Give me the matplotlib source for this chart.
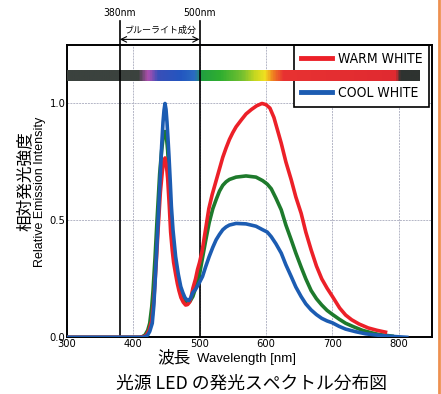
import numpy as np
import matplotlib
matplotlib.use('Agg')
import matplotlib.pyplot as plt
from matplotlib.colors import LinearSegmentedColormap
from matplotlib.lines import Line2D

# curves (wavelength nm, relative intensity)
warm_nm = [300, 410, 416, 420, 424, 428, 431, 435, 438, 441, 444, 446, 448, 450, 452, 454.5, 456.5, 459, 461, 464,
           466.6, 469, 472, 475.5, 479, 482, 485, 487.5, 490, 494, 497, 500, 504, 509, 514, 519, 525, 530, 535, 540,
           545, 550, 555, 563, 570, 578, 586, 594, 600, 606, 612, 618, 623, 630, 638, 645, 653, 660, 668, 676, 684,
           692, 700, 711, 720, 729, 740, 754, 767, 780]
warm_val = [0, 0, 0.003, 0.01, 0.03, 0.07, 0.15, 0.33, 0.48, 0.62, 0.71, 0.75, 0.767, 0.74, 0.68, 0.56, 0.45, 0.37,
            0.32, 0.27, 0.23, 0.20, 0.17, 0.15, 0.138, 0.14, 0.15, 0.175, 0.21, 0.25, 0.29, 0.32, 0.37, 0.46, 0.55,
            0.61, 0.67, 0.72, 0.77, 0.81, 0.846, 0.875, 0.90, 0.93, 0.955, 0.974, 0.99, 1.0, 0.995, 0.98, 0.94, 0.88,
            0.83, 0.75, 0.674, 0.60, 0.53, 0.45, 0.374, 0.305, 0.25, 0.21, 0.175, 0.125, 0.095, 0.075, 0.057, 0.04,
            0.03, 0.022]

mid_nm = [300, 410, 414, 418, 422, 425, 428, 430, 433, 436, 440, 443, 445, 448, 450, 452, 454, 456, 459, 462, 465,
          468, 471, 475, 478, 482, 486, 490, 494, 500, 504.5, 509, 514.5, 520, 525, 530, 535, 540, 545, 555, 570,
          585, 595, 602, 608, 615, 623, 630, 638, 645, 653, 660, 668, 676, 684, 692, 700, 710, 720, 732, 745, 758,
          770, 790]
mid_val = [0, 0, 0.003, 0.01, 0.03, 0.06, 0.13, 0.20, 0.34, 0.50, 0.70, 0.80, 0.85, 0.88, 0.86, 0.80, 0.70, 0.58,
           0.45, 0.36, 0.29, 0.24, 0.20, 0.17, 0.155, 0.148, 0.155, 0.175, 0.21, 0.27, 0.34, 0.41, 0.49, 0.55, 0.589,
           0.625, 0.65, 0.665, 0.675, 0.685, 0.69, 0.685, 0.67, 0.655, 0.635, 0.595, 0.545, 0.48, 0.417, 0.36, 0.30,
           0.25, 0.20, 0.165, 0.138, 0.115, 0.098, 0.078, 0.06, 0.045, 0.03, 0.02, 0.012, 0.005]

cool_nm = [300, 415, 419, 422, 425, 428.8, 431, 433, 435, 438, 441, 443, 445, 446.5, 448, 449.5, 451, 452.5, 454,
           456, 457.6, 460, 464, 468, 471.7, 475, 478, 481, 484, 487, 489.6, 494, 500, 504.5, 509, 514.5, 520, 525,
           530, 535, 540, 545, 555, 570, 585, 595, 602, 608, 615, 623, 630, 638, 645, 653, 660, 668, 676, 684, 692,
           700, 710, 720, 735, 750, 765, 780, 795, 812]
cool_val = [0, 0, 0.004, 0.01, 0.025, 0.06, 0.13, 0.23, 0.345, 0.52, 0.70, 0.82, 0.92, 0.97, 1.0, 0.975, 0.92, 0.85,
            0.774, 0.66, 0.56, 0.46, 0.345, 0.27, 0.217, 0.19, 0.17, 0.16, 0.157, 0.17, 0.19, 0.205, 0.235, 0.26,
            0.30, 0.345, 0.385, 0.417, 0.44, 0.46, 0.472, 0.48, 0.487, 0.485, 0.475, 0.46, 0.45, 0.43, 0.40, 0.36,
            0.31, 0.26, 0.215, 0.174, 0.143, 0.117, 0.097, 0.081, 0.07, 0.062, 0.047, 0.035, 0.024, 0.015, 0.01,
            0.006, 0.003, 0.0]

# colour strip of the visible spectrum
strip_nm = [300, 406, 421, 436, 470, 492, 502, 530, 563, 583, 598, 608, 625, 795, 802, 830]
strip_col = ['#3b423e', '#3b423e', '#b050b0', '#3a4fb8', '#2356c0', '#2a6cc0', '#22a040', '#2fae30', '#74c030',
             '#c8d820', '#f2e020', '#f08a20', '#e83232', '#e02a30', '#2e3330', '#2e3330']

x_ticks = [300, 400, 500, 600, 700, 800]
y_ticks = [0, 0.5, 1.0]
y_ticklabels = ['0.0', '0.5', '1.0']
blue_lo, blue_hi = 380, 500

narrow = dict(family='DejaVu Sans', stretch='condensed')
jp = ['Noto Sans CJK JP', 'DejaVu Sans']

W, H = 441, 394
fig = plt.figure(figsize=(W / 100, H / 100), dpi=100)
ax = fig.add_axes([66.7 / W, 1 - 337.3 / H, (432 - 66.7) / W, (337.3 - 45) / H])
ax.set_xlim(300, 850)
ax.set_ylim(0, 1.25)

ax.set_axisbelow(True)
ax.grid(True, color='#b4b6c6', linestyle=(0, (2, 1)), linewidth=0.7)
for s in ax.spines.values():
    s.set_linewidth(1.4)
ax.set_xticks(x_ticks)
ax.set_xticklabels([str(v) for v in x_ticks], fontsize=8, **narrow)
ax.set_yticks(y_ticks)
ax.set_yticklabels(y_ticklabels, fontsize=8, **narrow)
ax.tick_params(length=0, pad=1)

# spectrum strip
pos = [(v - strip_nm[0]) / (strip_nm[-1] - strip_nm[0]) for v in strip_nm]
cmap = LinearSegmentedColormap.from_list('spec', list(zip(pos, strip_col)))
ax.imshow(np.linspace(0, 1, 400)[None, :], cmap=cmap, aspect='auto',
          extent=[strip_nm[0], strip_nm[-1], 1.096, 1.143], zorder=3)

# blue light band markers
for v in (blue_lo, blue_hi):
    ax.plot([v, v], [0, 1.353], color='black', lw=1.2, clip_on=False, zorder=4)
    ax.text(v, 1.386, f'{v}nm', ha='center', va='center', fontsize=7.5, clip_on=False, **narrow)
ax.annotate('', xy=(blue_lo, 1.274), xytext=(blue_hi, 1.274), annotation_clip=False,
            arrowprops=dict(arrowstyle='<->', color='black', lw=0.8, shrinkA=0, shrinkB=0))
ax.text(441, 1.314, 'ブルーライト成分', ha='center', va='center', family=jp, fontsize=6.5, clip_on=False)

ax.plot(mid_nm, mid_val, color='#1e7a2c', lw=2.6, zorder=5, solid_joinstyle='round')
ax.plot(warm_nm, warm_val, color='#ec2028', lw=2.6, zorder=6, solid_joinstyle='round')
ax.plot(cool_nm, cool_val, color='#1c5cb2', lw=2.6, zorder=7, solid_joinstyle='round')

handles = [Line2D([], [], color='#ec2028', lw=3.5), Line2D([], [], color='#1c5cb2', lw=3.5)]
leg = ax.legend(handles, ['WARM WHITE', 'COOL WHITE'], loc='upper right', bbox_to_anchor=(0.992, 1.0),
                borderaxespad=0, prop=dict(size=10, **narrow), handlelength=2.2, handletextpad=0.4,
                labelspacing=1.45, borderpad=0.5, fancybox=False, framealpha=1, edgecolor='black')
leg.get_frame().set_linewidth(1.2)
leg.set_zorder(2)

# axis titles
fig.text(25 / W, 1 - 181 / H, '相対発光強度', rotation=90, ha='center', va='center', family=jp, fontsize=12)
fig.text(40 / W, 1 - 192 / H, 'Relative Emission Intensity', rotation=90, ha='center', va='center',
         family=['Liberation Sans', 'DejaVu Sans'], fontsize=9)
fig.text(174 / W, 1 - 358 / H, '波長', ha='center', va='center', family=jp, fontsize=12)
fig.text(197 / W, 1 - 359 / H, 'Wavelength [nm]', ha='left', va='center',
         family=['Liberation Sans', 'DejaVu Sans'], fontsize=9.5)
fig.text(251 / W, 1 - 384 / H, '光源 LED の発光スペクトル分布図', ha='center', va='center', family=jp, fontsize=12.8)

fig.add_artist(Line2D([438.5 / W, 438.5 / W], [0, 1], color='#ee9050', lw=2))

fig.savefig('out.png', dpi=100)
